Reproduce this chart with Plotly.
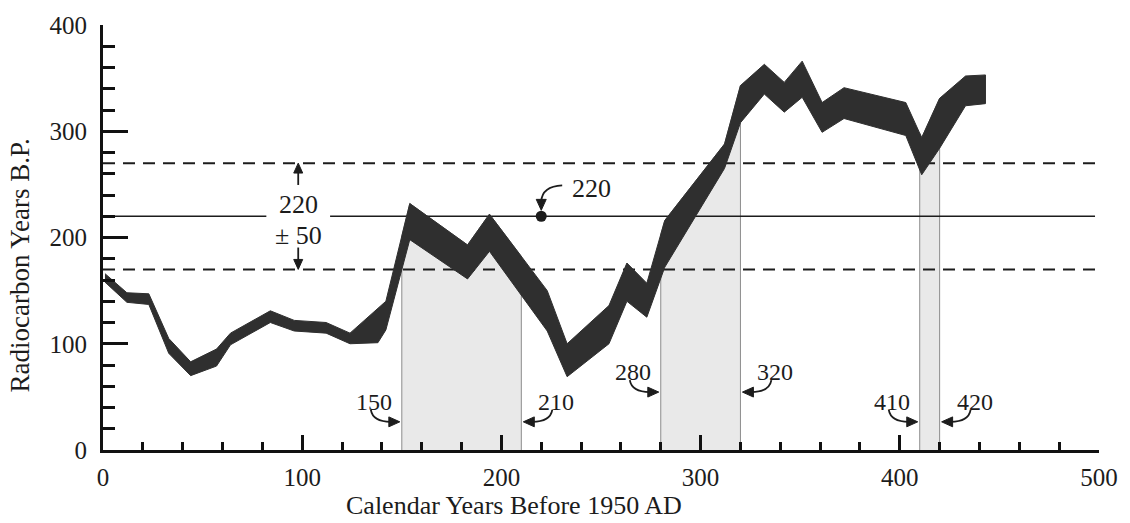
import numpy as np
import plotly.graph_objects as go

# Calibration band: calendar years BP and the upper / lower radiocarbon ages
cal_years = [1, 12, 23, 33, 44, 57, 64, 84, 96, 112, 124, 138, 142, 154, 183, 194,
             223, 233, 254, 263, 273, 282, 312, 320, 332, 342, 351, 361, 372, 403,
             411, 420, 433, 443]
c14_upper = [166, 148, 147, 105, 83, 95, 110, 131, 122, 120, 110, 134, 140, 232, 193, 222,
             150, 100, 136, 176, 157, 216, 288, 343, 363, 346, 366, 327, 341, 327,
             294, 331, 352, 353]
c14_lower = [158, 139, 137, 91, 70, 79, 99, 120, 112, 110, 100, 101, 113, 198, 161, 187,
             112, 69, 100, 140, 125, 172, 265, 308, 335, 318, 332, 299, 312, 296,
             259, 284, 324, 326]

# Measured date and its one-sigma error
sample_age = 220
sample_err = 50

# Calendar intervals where the band falls inside the error range
windows = [(150, 210), (280, 320), (410, 420)]

x_ticks = [0, 100, 200, 300, 400, 500]
y_ticks = [0, 100, 200, 300, 400]

SERIF = "Liberation Serif, Times New Roman, serif"
INK = "#1c1c1c"
BAND = "#2f2f2f"

# plot area in pixels, used to size the hand-drawn arrows
W_PX, H_PX = 998, 428
X_RANGE, Y_RANGE = (0, 500), (0, 400)
XS = W_PX / (X_RANGE[1] - X_RANGE[0])
YS = H_PX / (Y_RANGE[1] - Y_RANGE[0])


def pt(x0, y0, dx, dy):
    """Offset a data point by screen pixels (dy positive = down)."""
    return x0 + dx / XS, y0 - dy / YS


def fmt(p):
    return f"{p[0]:.3f},{p[1]:.3f}"


fig = go.Figure()

cx = np.array(cal_years, float)
hi = np.array(c14_upper, float)
lo = np.array(c14_lower, float)

# shaded calendar windows, filled up to the band
for a, b in windows:
    inner = cx[(cx > a) & (cx < b)]
    xs = np.concatenate([[a], inner, [b]])
    ys = np.interp(xs, cx, hi)
    fig.add_trace(go.Scatter(
        x=np.concatenate([[a], xs, [b]]),
        y=np.concatenate([[0], ys, [0]]),
        mode="lines", fill="toself", fillcolor="#e9e9e9",
        line=dict(color="#8c8c8c", width=1), hoverinfo="skip", showlegend=False))

# reference lines: measured age (solid) and +/- one sigma (dashed)
gap = (82, 114)
fig.add_trace(go.Scatter(
    x=[0, gap[0], None, gap[1], 498],
    y=[sample_age, sample_age, None, sample_age, sample_age],
    mode="lines", line=dict(color=INK, width=1.6), hoverinfo="skip", showlegend=False))
for yv in (sample_age + sample_err, sample_age - sample_err):
    fig.add_trace(go.Scatter(
        x=[0, 498], y=[yv, yv], mode="lines",
        line=dict(color=INK, width=2, dash="12px,8px"),
        hoverinfo="skip", showlegend=False))

# calibration band
fig.add_trace(go.Scatter(
    x=np.concatenate([cx, cx[::-1]]),
    y=np.concatenate([hi, lo[::-1]]),
    mode="lines", fill="toself", fillcolor=BAND,
    line=dict(color=BAND, width=1), hoverinfo="skip", showlegend=False))

# measured sample point
fig.add_trace(go.Scatter(
    x=[sample_age], y=[sample_age], mode="markers",
    marker=dict(size=11, color=INK), hoverinfo="skip", showlegend=False))

shapes = []
annotations = []


def curve(p0, c, p1):
    shapes.append(dict(type="path", xref="x", yref="y",
                       path=f"M {fmt(p0)} Q {fmt(c)} {fmt(p1)}",
                       line=dict(color=INK, width=1.8)))


def head(p_a, tip, p_b):
    shapes.append(dict(type="path", xref="x", yref="y",
                       path=f"M {fmt(p_a)} L {fmt(tip)} L {fmt(p_b)} Z",
                       fillcolor=INK, line=dict(color=INK, width=1)))


def hook_arrow(xt, yt, side):
    """Curved arrow ending at (xt, yt); side=+1 points right, -1 points left."""
    s = side
    curve(pt(xt, yt, -29 * s, -12), pt(xt, yt, -27 * s, 0), pt(xt, yt, -9 * s, 0))
    head(pt(xt, yt, -11 * s, -5), pt(xt, yt, 0, 0), pt(xt, yt, -11 * s, 5))


def label(x, y, text, size, **kw):
    annotations.append(dict(x=x, y=y, xref="x", yref="y", text=text, showarrow=False,
                            font=dict(family=SERIF, size=size, color=INK), **kw))


# window edge labels with curved arrows
label_heights = [26.5, 54.5, 26.5]
for (a, b), yl in zip(windows, label_heights):
    hook_arrow(a - 2 / XS, yl, +1)
    hook_arrow(b + 2 / XS, yl, -1)
    lx, ly = pt(a, yl, -28, -20)
    label(lx, ly, str(a), 24)
    rx, ry = pt(b, yl, 35, -20)
    label(rx, ry, str(b), 24)

# "220 +/- 50" label with arrows to the sigma lines
mid_x = (gap[0] + gap[1]) / 2
label(mid_x, sample_age + 11, str(sample_age), 26)
label(mid_x, sample_age - 18, f"\u00b1 {sample_err}", 26)
up_tip = (mid_x, sample_age + sample_err)
dn_tip = (mid_x, sample_age - sample_err)
shapes.append(dict(type="line", xref="x", yref="y",
                   x0=mid_x, x1=mid_x, y0=pt(*up_tip, 0, 22)[1], y1=pt(*up_tip, 0, 8)[1],
                   line=dict(color=INK, width=1.8)))
head(pt(*up_tip, -4.5, 10), up_tip, pt(*up_tip, 4.5, 10))
shapes.append(dict(type="line", xref="x", yref="y",
                   x0=mid_x, x1=mid_x, y0=pt(*dn_tip, 0, -22)[1], y1=pt(*dn_tip, 0, -8)[1],
                   line=dict(color=INK, width=1.8)))
head(pt(*dn_tip, -4.5, -10), dn_tip, pt(*dn_tip, 4.5, -10))

# arrow and label for the measured point
tip = pt(sample_age, sample_age, 0, -6)
curve(pt(*tip, 21, -25), pt(*tip, 1, -24), pt(*tip, 0, -9))
head(pt(*tip, -5, -11), tip, pt(*tip, 5, -11))
tx, ty = pt(sample_age, sample_age, 50, -28)
label(tx, ty, str(sample_age), 26)

# axis titles, placed in paper coordinates outside the plot area
annotations.append(dict(x=(515 - 103) / W_PX, y=-56 / H_PX, xref="paper", yref="paper",
                        xanchor="center", yanchor="middle",
                        text="Calendar Years Before 1950 AD", showarrow=False,
                        font=dict(family=SERIF, size=26, color=INK)))
annotations.append(dict(x=-83 / W_PX, y=186 / H_PX, xref="paper", yref="paper",
                        xanchor="center", yanchor="middle", textangle=-90,
                        text="Radiocarbon Years B.P.", showarrow=False,
                        font=dict(family=SERIF, size=27, color=INK)))

axis_common = dict(showline=True, linewidth=3, linecolor="#111", mirror=False,
                   ticks="inside", tickwidth=3, tickcolor="#111",
                   showgrid=False, zeroline=False,
                   tickfont=dict(family=SERIF, size=25, color=INK))

fig.update_layout(
    width=1130, height=523,
    margin=dict(l=103, r=29, t=22, b=73),
    paper_bgcolor="white", plot_bgcolor="white",
    xaxis=dict(range=list(X_RANGE), tickvals=x_ticks, ticklen=15,
               minor=dict(dtick=20, tick0=0, ticklen=8, tickwidth=3, ticks="inside", tickcolor="#111"),
               ticklabelstandoff=3, **axis_common),
    yaxis=dict(range=list(Y_RANGE), tickvals=y_ticks, ticklen=25,
               minor=dict(dtick=20, tick0=0, ticklen=12, tickwidth=3, ticks="inside", tickcolor="#111"),
               ticklabelstandoff=8, **axis_common),
    shapes=shapes, annotations=annotations,
    showlegend=False,
)

fig.write_html("out.html")
